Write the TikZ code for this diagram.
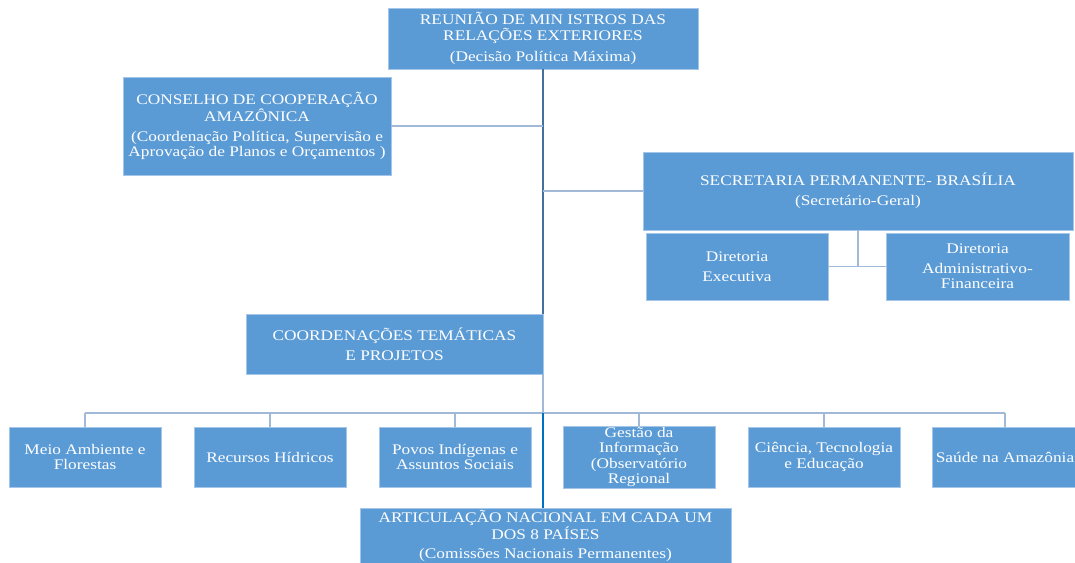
\documentclass[tikz,border=0pt]{standalone}
\usepackage{fontspec}
\setmainfont[FakeStretch=1.18]{Liberation Serif}

\definecolor{boxfill}{RGB}{91,155,213}
\definecolor{boxedge}{RGB}{165,198,232}
\definecolor{trunkcol}{RGB}{65,113,156}
\definecolor{branchcol}{RGB}{160,185,215}
\definecolor{lowcol}{RGB}{0,112,192}

\tikzset{every picture/.style={line width=0.75pt}}
\tikzset{
  orgbox/.style n args={2}{draw=boxedge, line width=0.6pt, fill=boxfill, text=white, align=center, inner sep=1pt, minimum width=#1*0.75pt, minimum height=#2*0.75pt, font=\fontsize{11}{11.5}\selectfont},
  trunkline/.style={draw=trunkcol, line width=1.6pt},
  branchline/.style={draw=branchcol, line width=1.3pt},
  lowline/.style={draw=lowcol, line width=1.9pt}
}

\begin{document}
\begin{tikzpicture}[x=0.75pt,y=0.75pt,yscale=-1,xscale=1]
\useasboundingbox (0,0) rectangle (1075,562);

%Shape: Rectangle [reuniao]
\node [orgbox={310}{61}] (reuniao) at (543,38.5) {REUNIÃO DE MIN ISTROS DAS\\RELAÇÕES EXTERIORES\\[4.5pt](Decisão Política Máxima)};
%Shape: Rectangle [conselho]
\node [orgbox={268}{98}] (conselho) at (257,126) {CONSELHO DE COOPERAÇÃO\\AMAZÔNICA\\[3pt](Coordenação Política, Supervisão e\\Aprovação de Planos e Orçamentos )};
%Shape: Rectangle [secretaria]
\node [orgbox={430}{78}] (secretaria) at (858,191) {SECRETARIA PERMANENTE- BRASÍLIA\\[3.5pt](Secretário-Geral)};
%Shape: Rectangle [direx]
\node [orgbox={182}{67}] (direx) at (737,266.5) {Diretoria\\[3.5pt]Executiva};
%Shape: Rectangle [diradm]
\node [orgbox={183}{67}] (diradm) at (977.5,266.5) {Diretoria\\[3.5pt]Administrativo-\\Financeira};
%Shape: Rectangle [coord]
\node [orgbox={297}{60}] (coord) at (394.5,344) {COORDENAÇÕES TEMÁTICAS\\[3.5pt]E PROJETOS};

%Shape: Rectangle [meio]
\node [orgbox={152}{60}] (meio) at (85,457) {Meio Ambiente e\\Florestas};
%Shape: Rectangle [recursos]
\node [orgbox={152}{60}] (recursos) at (270,457) {Recursos Hídricos};
%Shape: Rectangle [povos]
\node [orgbox={152}{60}] (povos) at (455,457) {Povos Indígenas e\\Assuntos Sociais};
%Shape: Rectangle [gestao]
\node [orgbox={152}{60}] (gestao) at (639,457) {Gestão da\\Informação\\(Observatório\\Regional};
%Shape: Rectangle [ciencia]
\node [orgbox={152}{60}] (ciencia) at (824,457) {Ciência, Tecnologia\\e Educação};
%Shape: Rectangle [saude]
\node [orgbox={146}{60}] (saude) at (1005,457) {Saúde na Amazônia};

%Shape: Rectangle [artic]
\node [orgbox={371}{56}] (artic) at (545.5,536) {ARTICULAÇÃO NACIONAL EM CADA UM\\DOS 8 PAÍSES\\[3pt](Comissões Nacionais Permanentes)};

%Straight Lines [trunk]
\draw [trunkline] (reuniao.south) -- (reuniao.south |- coord.north);
%Straight Lines [conselho, secretaria]
\draw [branchline] (conselho.east) -- (conselho.east -| reuniao.south);
\draw [branchline] (secretaria.west) -- (secretaria.west -| reuniao.south);
%Straight Lines [diretorias]
\draw [branchline] (secretaria.south) -- (secretaria.south |- direx.east);
\draw [branchline] (direx.east) -- (diradm.west);

%Straight Lines [coordenacoes]
\coordinate (bar) at (543,413);
\draw [branchline] (reuniao.south |- coord.south) -- (bar);
\draw [branchline] (meio.north |- bar) -- (saude.north |- bar);
\draw [branchline] (meio.north) -- (meio.north |- bar);
\draw [branchline] (recursos.north) -- (recursos.north |- bar);
\draw [branchline] (povos.north) -- (povos.north |- bar);
\draw [branchline] (gestao.north) -- (gestao.north |- bar);
\draw [branchline] (ciencia.north) -- (ciencia.north |- bar);
\draw [branchline] (saude.north) -- (saude.north |- bar);
%Straight Lines [articulacao]
\draw [lowline] (bar) -- (bar |- artic.north);

\end{tikzpicture}
\end{document}
